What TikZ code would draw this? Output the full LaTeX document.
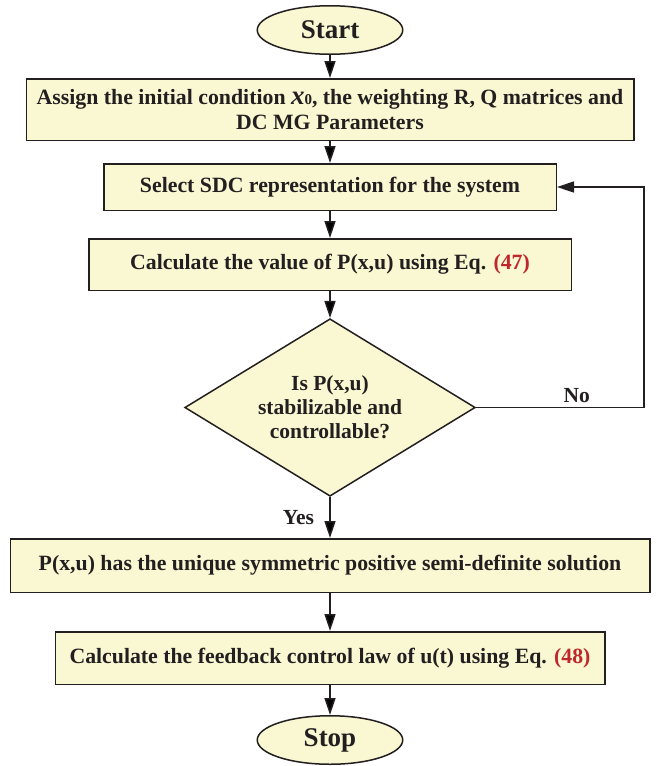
\documentclass[tikz,border=0pt]{standalone}
\usepackage{fontspec}
\setmainfont{Liberation Serif}
\usetikzlibrary{shapes.geometric, arrows.meta, positioning}

\definecolor{boxfill}{RGB}{250,248,210}
\definecolor{ink}{RGB}{35,31,32}
\definecolor{eqred}{RGB}{192,39,45}
\newcommand{\eqnum}[1]{\textcolor{eqred}{(#1)}}
\newcommand{\xzero}{{\fontsize{27}{27}\selectfont\itshape x}{\fontsize{15}{15}\selectfont 0}}

\tikzset{
	terminal/.style = {ellipse, draw=ink, fill=boxfill, line width=1.5pt, text=ink,
		minimum width=145.5pt, minimum height=48.5pt, inner sep=0pt,
		font=\fontsize{27}{27}\selectfont\bfseries},
	process/.style = {rectangle, draw=ink, fill=boxfill, line width=1.5pt, text=ink,
		inner sep=0pt, align=center, font=\fontsize{21.8}{25}\selectfont\bfseries},
	decision/.style = {diamond, draw=ink, fill=boxfill, line width=1.5pt, text=ink,
		aspect=1.63, minimum width=290.5pt, minimum height=177.5pt, inner sep=0pt,
		align=center, font=\fontsize{21.5}{24}\selectfont\bfseries},
	answer/.style = {text=ink, font=\fontsize{21.5}{24}\selectfont\bfseries},
	flow/.style = {-{Triangle[length=17pt, width=11pt]}, line width=1.5pt, draw=ink},
}

\begin{document}
\begin{tikzpicture} [x=1pt, y=-1pt]
		\useasboundingbox (0,0) rectangle (656,766);
		\node (start) [terminal] at (330,30) {Start};
		\node (init) [process, minimum width=607.5pt, minimum height=61.5pt, below = 23pt of start]
			{Assign the initial condition \xzero, the weighting R, Q matrices and\\DC MG Parameters};
		\node (sdc) [process, minimum width=452.5pt, minimum height=46.5pt, below = 22pt of init]
			{Select SDC representation for the system};
		\node (calc) [process, minimum width=482.5pt, minimum height=51.5pt, below = 27pt of sdc]
			{Calculate the value of P(x,u) using Eq. \eqnum{47}};
		\node (chk) [decision, below = 27pt of calc] {Is P(x,u)\\stabilizable and\\controllable?};
		\node (sol) [process, minimum width=639.5pt, minimum height=53.5pt, below = 41pt of chk]
			{P(x,u) has the unique symmetric positive semi-definite solution};
		\node (law) [process, minimum width=549.5pt, minimum height=52.5pt, below = 38pt of sol]
			{Calculate the feedback control law of u(t) using Eq. \eqnum{48}};
		\node (stop) [terminal, below = 30pt of law] {Stop};
		\coordinate [right = 168pt of chk.east] (fb);
		\path [flow]
		(start) edge (init)
		(init) edge (sdc)
		(sdc) edge (calc)
		(calc) edge (chk)
		(chk) edge node [answer, left = 12pt] {Yes} (sol)
		(sol) edge (law)
		(law) edge (stop)
		;
		\draw [flow] (chk.east) -- node [answer, above = 1pt, pos=0.6] {No} (fb) |- (sdc.east);
	\end{tikzpicture}
\end{document}
